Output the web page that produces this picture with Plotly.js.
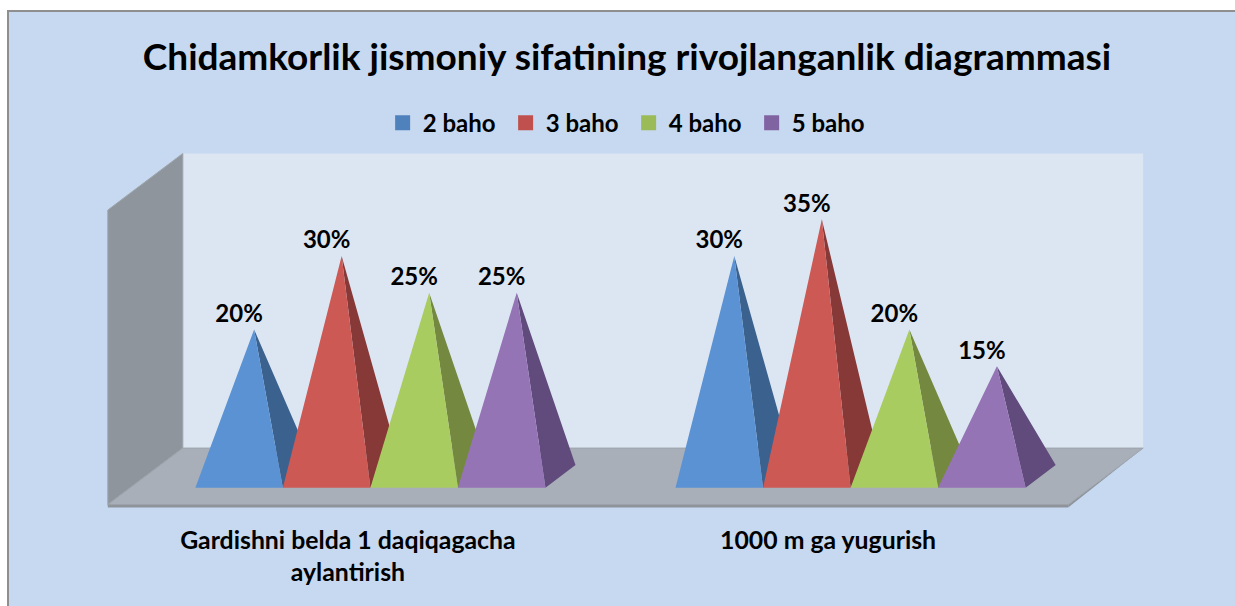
<!DOCTYPE html>
<html>
<head>
<meta charset="utf-8">
<script src="https://cdn.plot.ly/plotly-3.0.1.min.js"></script>
<style>
html,body{margin:0;padding:0;background:#fff;width:1235px;height:606px;overflow:hidden}
#frame{position:absolute;left:7px;top:10px;width:1228px;height:596px;box-sizing:border-box;background:#c6d9f1;border-left:2.5px solid #8f8f8f;border-top:2.5px solid #8f8f8f}
#chart{position:absolute;left:0;top:0;width:1235px;height:606px}
</style>
</head>
<body>
<div id="frame"></div>
<div id="chart"></div>
<script>
var chartTitle = "Chidamkorlik jismoniy sifatining rivojlanganlik diagrammasi";
var categories = ["Gardishni belda 1 daqiqagacha<br>aylantirish", "1000 m ga yugurish"];
var seriesNames = ["2 baho", "3 baho", "4 baho", "5 baho"];
var baho2 = [20, 30];
var baho3 = [30, 35];
var baho4 = [25, 20];
var baho5 = [25, 15];
var seriesValues = [baho2, baho3, baho4, baho5];
var frontColors = ["#5b92d3", "#cd5955", "#a9cc61", "#9574b6"];
var sideColors = ["#3b628f", "#873938", "#74893f", "#604b7c"];
var legendColors = ["#4f81bd", "#c0504d", "#9bbb59", "#8064a2"];

// Oblique projection of the 3-D chart box: depth z (0..1) shifts along x (categories) and y (percent)
var depthX = 75 / 480, depthY = 7.7, wallTop = 40.1;
var barWidth = 87.5 / 480, zFront = 0.3, zMid = 0.5, zBack = 0.7;
function px(x, z) { return x + depthX * z; }
function py(v, z) { return v + depthY * z; }

var traces = [];
function poly(points, color, line) {
  var xs = [], ys = [];
  points.forEach(function (p) {
    if (p === null) { xs.push(null); ys.push(null); return; }
    xs.push(px(p[0], p[2])); ys.push(py(p[1], p[2]));
  });
  traces.push({
    type: "scatter", mode: "lines", x: xs, y: ys, fill: "toself", fillcolor: color,
    line: {width: line ? 1 : 0, color: line || color}, showlegend: false, hoverinfo: "skip"
  });
}
var nCat = categories.length;
poly([[0,0,1],[nCat,0,1],[nCat,wallTop,1],[0,wallTop,1],[0,0,1]], "#dce6f2", null);
poly([[0,0,0],[0,0,1],[0,wallTop,1],[0,wallTop,0],[0,0,0]], "#8e959d", "#a0a6ad");
poly([[nCat,-0.4,0],[nCat,0,0],[nCat,0,1],[nCat,-0.4,0]], "#8f949b", null);
poly([[0,0,0],[nCat,0,0],[nCat,0,1],[0,0,1],[0,0,0]], "#a8afb9", "#9ea4ac");
poly([[0,-0.4,0],[nCat,-0.4,0],[nCat,0,0],[0,0,0],[0,-0.4,0]], "#8f949b", null);

var nSer = seriesValues.length;
seriesValues.forEach(function (vals, s) {
  var front = [], side = [];
  vals.forEach(function (v, c) {
    var x0 = c + 0.5 + (s - nSer / 2) * barWidth, x1 = x0 + barWidth, xm = x0 + barWidth / 2;
    // apex sits over the middle of the base
    var apexX = xm + depthX * (zMid - zFront);
    var apexV = v + depthY * (zMid - zFront);
    front.push([x0,0,zFront],[x1,0,zFront],[apexX,apexV,zFront],[x0,0,zFront],null);
    side.push([x1,0,zFront],[x1 + depthX * (zBack - zFront),depthY * (zBack - zFront),zFront],[apexX,apexV,zFront],[x1,0,zFront],null);
  });
  poly(side, sideColors[s], null);
  poly(front, frontColors[s], null);
});

// Data labels
seriesValues.forEach(function (vals, s) {
  traces.push({
    type: "scatter", mode: "text", showlegend: false, hoverinfo: "skip",
    x: vals.map(function (v, c) { return px(c + 0.5 + (s - nSer / 2 + 0.5) * barWidth, zFront); }),
    y: vals.map(function (v) { return py(v, zMid) + 0.2; }),
    text: vals.map(function (v) { return v + "%"; }),
    textposition: "top center",
    textfont: {family: "Lato, sans-serif", size: 24, color: "#000", weight: 700}
  });
});

// Legend entries
seriesNames.forEach(function (n, s) {
  traces.push({
    type: "scatter", mode: "markers", name: n, x: [null], y: [null],
    marker: {symbol: "square", size: 15, color: legendColors[s]}, hoverinfo: "skip"
  });
});

var pxPerX = 480, pxPerY = 7.36, padX = 0.01, yMin = -1, yMax = 48;
var layout = {
  width: 1235, height: 606,
  paper_bgcolor: "rgba(0,0,0,0)", plot_bgcolor: "rgba(0,0,0,0)",
  margin: {
    l: 108 - padX * pxPerX,
    r: 1235 - 1143 - padX * pxPerX,
    t: 505 - yMax * pxPerY,
    b: 606 - 505 + yMin * pxPerY,
    pad: 0
  },
  title: {
    text: chartTitle, x: 627 / 1235, xanchor: "center", y: 1 - 57 / 606, yanchor: "middle",
    font: {family: "Lato, sans-serif", size: 37, color: "#000", weight: 700}
  },
  showlegend: true,
  legend: {
    orientation: "h", xref: "paper", yref: "paper", x: 0.503, xanchor: "center",
    y: 1.08, yanchor: "middle", bgcolor: "rgba(0,0,0,0)",
    entrywidth: 78, entrywidthmode: "pixels", traceorder: "normal",
    font: {family: "Lato, sans-serif", size: 24, color: "#000", weight: 700}
  },
  xaxis: {
    range: [-padX, nCat + depthX + padX], showgrid: false, zeroline: false, showline: false,
    tickmode: "array",
    tickvals: categories.map(function (c, i) { return i + 0.5; }),
    ticktext: categories,
    ticks: "outside", ticklen: 6, tickcolor: "rgba(0,0,0,0)",
    tickfont: {family: "Lato, sans-serif", size: 24.8, color: "#000", weight: 700},
    tickangle: 0, fixedrange: true
  },
  yaxis: {
    range: [yMin, yMax], showgrid: false, zeroline: false, showline: false,
    showticklabels: false, ticks: "", fixedrange: true
  }
};
Plotly.newPlot("chart", traces, layout, {displayModeBar: false, responsive: false});
</script>
</body>
</html>
